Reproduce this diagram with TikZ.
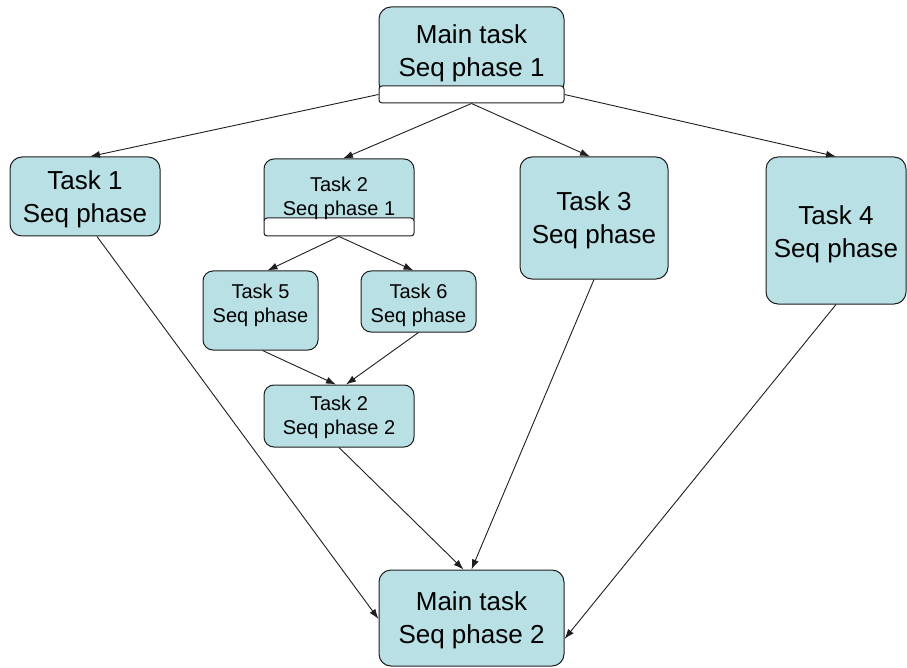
\documentclass[tikz,border=0pt]{standalone}
\usepackage{fontspec}
\setmainfont{Liberation Sans}
\usetikzlibrary{arrows.meta}
\definecolor{boxblue}{RGB}{185,224,228}
\definecolor{edge}{RGB}{30,30,30}
\tikzset{
  box/.style={draw=edge, line width=1pt, fill=boxblue, rounded corners=12pt,
    inner sep=0pt, anchor=center},
  bigtext/.style={font=\fontsize{26}{33}\selectfont, align=center, inner sep=0pt},
  smalltext/.style={font=\fontsize{20}{24}\selectfont, align=center, inner sep=0pt},
  bar/.style={draw=edge, line width=1pt, fill=white, rounded corners=3pt,
    inner sep=0pt, anchor=center},
  link/.style={draw=edge, line width=0.9pt, -{Latex[length=10pt,width=7pt]}}
}
\begin{document}
\begin{tikzpicture}[x=1pt,y=-1pt]
\useasboundingbox (0,0) rectangle (907,668);
% box shapes
\node[box, minimum width=185pt, minimum height=88pt] (m1) at (471.5,51) {};
\node[bar, minimum width=185pt, minimum height=17pt] (m1bar) at (471.5,94.5) {};
\node[box, minimum width=150pt, minimum height=79pt] (t1) at (85,196.5) {};
\node[box, minimum width=150pt, minimum height=70pt, rounded corners=10pt] (t2a) at (339,194) {};
\node[bar, minimum width=150pt, minimum height=18pt] (t2abar) at (339,227) {};
\node[box, minimum width=148pt, minimum height=122pt] (t3) at (594,218) {};
\node[box, minimum width=140pt, minimum height=147pt] (t4) at (836,230.5) {};
\node[box, minimum width=115pt, minimum height=79pt, rounded corners=10pt] (t5) at (260.5,310.5) {};
\node[box, minimum width=115pt, minimum height=61pt, rounded corners=10pt] (t6) at (418.5,301.5) {};
\node[box, minimum width=150pt, minimum height=62pt, rounded corners=10pt] (t2b) at (339,416) {};
\node[box, minimum width=185pt, minimum height=96pt] (m2) at (471.5,618) {};
% box texts
\node[bigtext] (m1txt) at (471.5,53.5) {Main task\\Seq phase 1};
\node[bigtext] (t1txt) at (85,199) {Task 1\\Seq phase};
\node[smalltext] (t2atxt) at (339,198) {Task 2\\Seq phase 1};
\node[bigtext] (t3txt) at (594,220.5) {Task 3\\Seq phase};
\node[bigtext] (t4txt) at (836,234) {Task 4\\Seq phase};
\node[smalltext] (t5txt) at (260.5,305) {Task 5\\Seq phase};
\node[smalltext] (t6txt) at (418.5,305) {Task 6\\Seq phase};
\node[smalltext] (t2btxt) at (339,417.5) {Task 2\\Seq phase 2};
\node[bigtext] (m2txt) at (471.5,620.5) {Main task\\Seq phase 2};
% connectors
\draw[link] (m1bar.west) -- ([xshift=5pt]t1.north);
\draw[link] (m1bar.south) -- ([xshift=4pt]t2a.north);
\draw[link] (m1bar.south) -- ([xshift=-4pt]t3.north);
\draw[link] (m1bar.east) -- (t4.north);
\draw[link] (t2abar.south) -- ([xshift=7pt]t5.north);
\draw[link] (t2abar.south) -- ([xshift=-5pt]t6.north);
\draw[link] ([xshift=2pt]t5.south) -- ([xshift=-3pt]t2b.north);
\draw[link] (t6.south) -- ([xshift=7pt]t2b.north);
\draw[link] ([xshift=12pt]t1.south) -- ([yshift=-1pt]m2.west);
\draw[link] (t2b.south) -- ([xshift=-8pt]m2.north);
\draw[link] (t3.south) -- (m2.north);
\draw[link] (t4.south) -- ([yshift=-21pt]m2.east);
\end{tikzpicture}
\end{document}
